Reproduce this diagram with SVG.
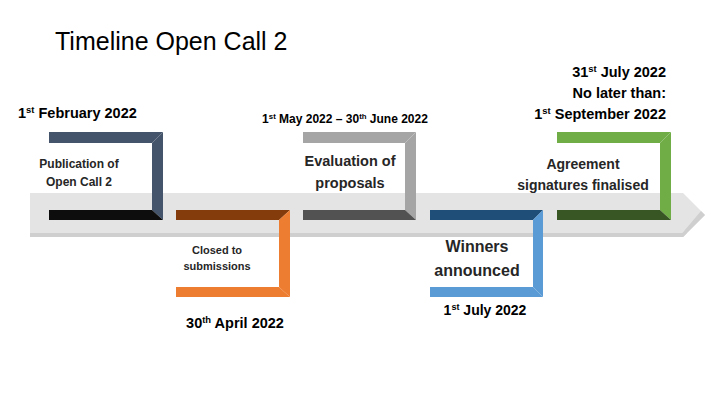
<svg xmlns="http://www.w3.org/2000/svg" width="720" height="405" viewBox="0 0 720 405">
<style>
text{font-family:"Liberation Sans",Arial,sans-serif;fill:#262626}
.b{font-weight:bold}
.s{font-size:65%;baseline-shift:super}
</style>
<rect width="720" height="405" fill="#fff"/>
<text x="55" y="50" font-size="25" style="fill:#000">Timeline Open Call 2</text>
<g id="band">
<polygon points="30,193 683,193 705,215 683,237 30,237" fill="#e4e4e4"/>
<polygon points="30,233 687,233 683,237 30,237" fill="#cfcfcf"/>
<polygon points="701,211 705,215 683,237 679,237" fill="#cfcfcf"/>
</g>
<g id="connectors"></g>
<g id="step1">
<polygon points="49,132 163,132 152,143 49,143" fill="#44546a"/>
<polygon points="152,143 163,132 163,220 152,210" fill="#44546a"/>
<polygon points="49,210 152,210 163,220 49,220" fill="#0d0d0d"/>
<text x="18" y="118" font-size="14.5" class="b" style="fill:#000">1<tspan class="s">st</tspan> February 2022</text>
<text x="79" y="168" font-size="12" class="b" text-anchor="middle">Publication of</text>
<text x="79" y="186" font-size="12" class="b" text-anchor="middle">Open Call 2</text>
</g>
<g id="step2">
<polygon points="176,210 290,210 279,220 176,220" fill="#843c0c"/>
<polygon points="279,220 290,210 290,297 279,287" fill="#ed7d31"/>
<polygon points="176,287 279,287 290,297 176,297" fill="#ed7d31"/>
<text x="217" y="254" font-size="11" class="b" text-anchor="middle">Closed to</text>
<text x="217" y="270" font-size="11" class="b" text-anchor="middle">submissions</text>
<text x="235" y="328" font-size="14.5" class="b" text-anchor="middle" style="fill:#000">30<tspan class="s">th</tspan> April 2022</text>
</g>
<g id="step3">
<polygon points="303,132 416,132 405,143 303,143" fill="#a5a5a5"/>
<polygon points="405,143 416,132 416,220 405,210" fill="#a5a5a5"/>
<polygon points="303,210 405,210 416,220 303,220" fill="#525252"/>
<text x="345" y="123" font-size="12" class="b" text-anchor="middle" style="fill:#000">1<tspan class="s">st</tspan> May 2022 – 30<tspan class="s">th</tspan> June 2022</text>
<text x="350" y="166" font-size="14.5" class="b" text-anchor="middle">Evaluation of</text>
<text x="350" y="188" font-size="14.5" class="b" text-anchor="middle">proposals</text>
</g>
<g id="step4">
<polygon points="430,210 543,210 533,220 430,220" fill="#1f4e79"/>
<polygon points="533,220 543,210 543,297 533,287" fill="#5b9bd5"/>
<polygon points="430,287 533,287 543,297 430,297" fill="#5b9bd5"/>
<text x="477" y="252" font-size="16" class="b" text-anchor="middle">Winners</text>
<text x="477" y="276" font-size="16" class="b" text-anchor="middle">announced</text>
<text x="485" y="315" font-size="14" class="b" text-anchor="middle" style="fill:#000">1<tspan class="s">st</tspan> July 2022</text>
</g>
<g id="step5">
<polygon points="557,132 671,132 660,143 557,143" fill="#70ad47"/>
<polygon points="660,143 671,132 671,220 660,210" fill="#70ad47"/>
<polygon points="557,210 660,210 671,220 557,220" fill="#375623"/>
<text x="666" y="77" font-size="14.5" class="b" text-anchor="end" style="fill:#000">31<tspan class="s">st</tspan> July 2022</text>
<text x="666" y="98" font-size="14.5" class="b" text-anchor="end" style="fill:#000">No later than:</text>
<text x="666" y="119" font-size="14.5" class="b" text-anchor="end" style="fill:#000">1<tspan class="s">st</tspan> September 2022</text>
<text x="583" y="169" font-size="14" class="b" text-anchor="middle">Agreement</text>
<text x="583" y="190" font-size="14" class="b" text-anchor="middle">signatures finalised</text>
</g>
</svg>
